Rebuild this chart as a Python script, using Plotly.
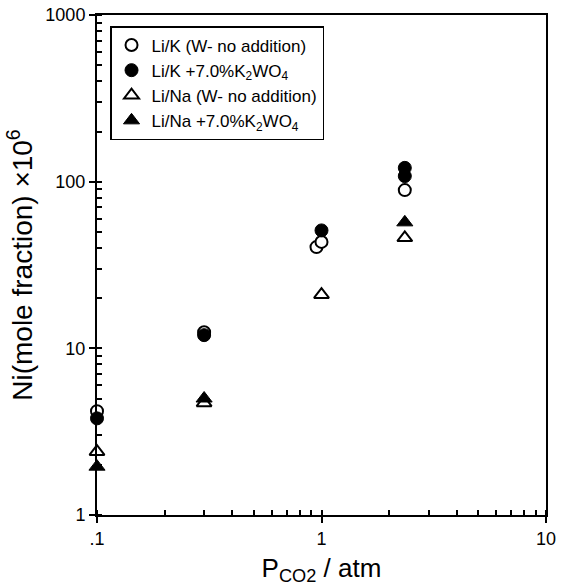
import plotly.graph_objects as go

# Data
x_lik_none = [0.1, 0.3, 0.95, 1.0, 2.35]
y_lik_none = [4.2, 12.5, 40.5, 43.5, 89]
x_lik_w = [0.1, 0.3, 1.0, 2.35, 2.35]
y_lik_w = [3.8, 12.0, 51, 108, 121]
x_lina_none = [0.1, 0.3, 1.0, 2.35]
y_lina_none = [2.4, 4.7, 21, 46]
x_lina_w = [0.1, 0.3, 2.35]
y_lina_w = [1.95, 5.0, 57]

names = [
    "Li/K (W- no addition)",
    "Li/K +7.0%K<sub>2</sub>WO<sub>4</sub>",
    "Li/Na (W- no addition)",
    "Li/Na +7.0%K<sub>2</sub>WO<sub>4</sub>",
]
x_tickvals = [0.1, 1, 10]
x_ticktext = [".1", "1", "10"]
y_tickvals = [1, 10, 100, 1000]
y_ticktext = ["1", "10", "100", "1000"]

FONT = "Liberation Sans, Arial, sans-serif"

fig = go.Figure()
styles = [
    dict(symbol="circle", color="white", line=dict(color="black", width=2), size=12),
    dict(symbol="circle", color="black", line=dict(color="black", width=1), size=13),
    dict(symbol="triangle-up", color="white", line=dict(color="black", width=2), size=13),
    dict(symbol="triangle-up", color="black", line=dict(color="black", width=1), size=14),
]
data = [(x_lik_none, y_lik_none), (x_lik_w, y_lik_w),
        (x_lina_none, y_lina_none), (x_lina_w, y_lina_w)]
for i, ((xs, ys), nm, st) in enumerate(zip(data, names, styles)):
    fig.add_trace(go.Scatter(x=xs, y=ys, mode="markers", name=nm,
                             marker=st, legendgroup=f"g{i}", cliponaxis=False))

axis_common = dict(
    showgrid=False, zeroline=False, showline=True, linecolor="black", linewidth=2,
    mirror=True, ticks="outside", ticklen=6, tickwidth=1.5, tickcolor="black",
    automargin=False,
    tickfont=dict(family=FONT, size=18, color="black"),
)

fig.update_layout(
    width=562, height=587,
    margin=dict(l=97, r=16, t=15, b=72, autoexpand=False),
    paper_bgcolor="white", plot_bgcolor="white",
    font=dict(family=FONT, color="black"),
    showlegend=True,
    legend=dict(
        x=0.029, y=0.978, xanchor="left", yanchor="top",
        bordercolor="black", borderwidth=1.5, bgcolor="white",
        font=dict(family=FONT, size=17, color="black"),
        tracegroupgap=5, traceorder="normal",
    ),
    xaxis=dict(
        type="log", range=[-1, 1], tickvals=x_tickvals, ticktext=x_ticktext,
        title=dict(text="P<sub>CO2</sub> / atm", font=dict(family=FONT, size=26), standoff=11),
        minor=dict(ticks="inside", ticklen=5, tickwidth=1.5, tickcolor="black", dtick="D1", showgrid=False),
        **axis_common,
    ),
    yaxis=dict(
        type="log", range=[0, 3], tickvals=y_tickvals, ticktext=y_ticktext,
        title=dict(text="Ni(mole fraction) \u00d710<sup>6</sup>", font=dict(family=FONT, size=28), standoff=5),
        minor=dict(ticks="inside", ticklen=5, tickwidth=1.5, tickcolor="black", dtick="D1", showgrid=False),
        **axis_common,
    ),
)

fig.write_html("out.html")
